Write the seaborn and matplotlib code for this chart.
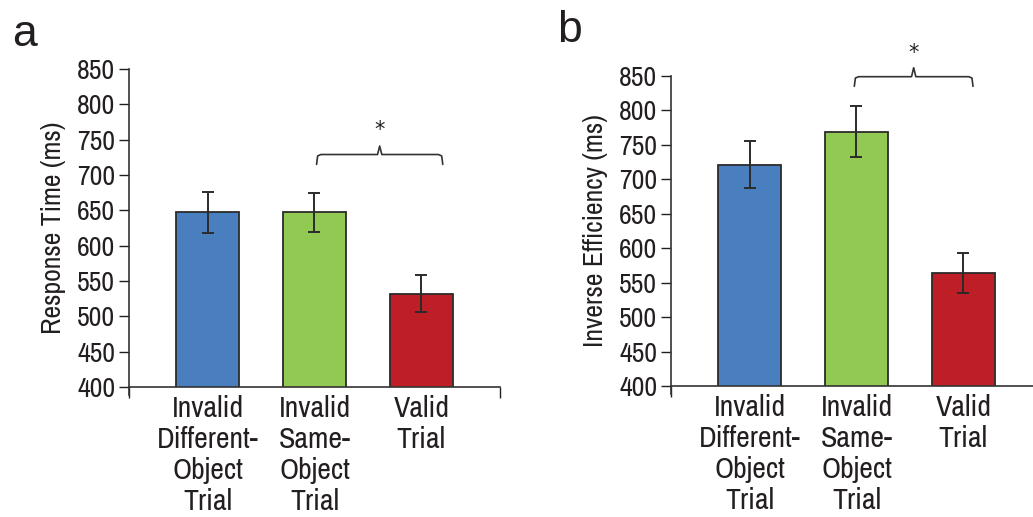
import numpy as np
import pandas as pd
import matplotlib.pyplot as plt
import seaborn as sns

# data
conditions = ["Invalid\nDifferent-\nObject\nTrial", "Invalid\nSame-\nObject\nTrial", "Valid\nTrial"]
rt_means = [647, 647, 532]
rt_err = [29, 27, 26]
ie_means = [721, 769, 564]
ie_err = [34, 37, 29]
bar_colors = ["#4A7FBF", "#92C952", "#BE1E26"]
y_ticks = [400, 450, 500, 550, 600, 650, 700, 750, 800, 850]

sns.set_style("white")
plt.rcParams["font.family"] = ["Archivo Narrow", "DejaVu Sans"]
plt.rcParams["text.color"] = "#231F20"
plt.rcParams["axes.labelcolor"] = "#231F20"
plt.rcParams["xtick.color"] = "#231F20"
plt.rcParams["ytick.color"] = "#231F20"

fig = plt.figure(figsize=(10.33, 5.17), dpi=100)
ax_a = fig.add_axes([0.1249, 0.2515, 0.359, 0.615])
ax_b = fig.add_axes([0.6496, 0.2534, 0.359, 0.5996])


def draw_panel(ax, means, errs, ylabel, brace, letter, letter_xy):
    df = pd.DataFrame({"cond": conditions, "value": means})
    sns.barplot(data=df, x="cond", y="value", hue="cond", palette=bar_colors,
                legend=False, width=0.59, edgecolor="#2b2b2b", linewidth=1.3,
                saturation=1, ax=ax)
    ax.errorbar(np.arange(3), means, yerr=errs, fmt="none", ecolor="#2b2b2b",
                elinewidth=1.4, capsize=4.5, capthick=1.4)
    ax.set_ylim(400, 850)
    ax.set_xlim(-0.734, 2.734)
    ax.set_yticks(y_ticks)
    ax.tick_params(axis="y", labelsize=20, length=7, width=1, direction="out", left=True, pad=3)
    ax.tick_params(axis="x", which="major", labelsize=21.5, length=0, pad=6)
    ax.set_xticks([-0.734, 2.734], minor=True)
    ax.tick_params(axis="x", which="minor", length=8, width=1, direction="out", bottom=True)
    ax.set_xlabel("")
    ax.set_ylabel(ylabel, fontsize=20, labelpad=8)
    for lab in ax.get_xticklabels():
        lab.set_linespacing(1.17)
    for s in ["top", "right"]:
        ax.spines[s].set_visible(False)
    for s in ["left", "bottom"]:
        ax.spines[s].set_color("#333333")
        ax.spines[s].set_linewidth(1.2)
    ax.spines["left"].set_bounds(388, 850)

    # significance brace between the second and third condition
    x0, x1, yh, yend, ypeak, ystar = brace
    xm = (x0 + x1) / 2
    bx = [x0, x0 + 0.01, x0 + 0.04, xm - 0.02, xm, xm + 0.02, x1 - 0.04, x1 - 0.01, x1]
    by = [yend, yh - 2, yh, yh, ypeak, yh, yh, yh - 2, yend]
    ax.plot(bx, by, color="#333333", lw=1.2, clip_on=False)
    ax.text(xm, ystar, "*", ha="center", va="center", fontsize=15, clip_on=False,
            family=["DejaVu Sans"])
    ax.text(letter_xy[0], letter_xy[1], letter, transform=ax.transAxes, fontsize=32,
            ha="left", va="center", family=["Liberation Sans", "DejaVu Sans"])


draw_panel(ax_a, rt_means, rt_err, "Response Time (ms)",
           [1.02, 2.20, 729, 715, 741, 763], "a", (-0.315, 1.107))
draw_panel(ax_b, ie_means, ie_err, "Inverse Efficiency (ms)",
           [0.98, 2.09, 849, 835, 862, 884], "b", (-0.307, 1.148))

fig.savefig("out.png", dpi=100)
